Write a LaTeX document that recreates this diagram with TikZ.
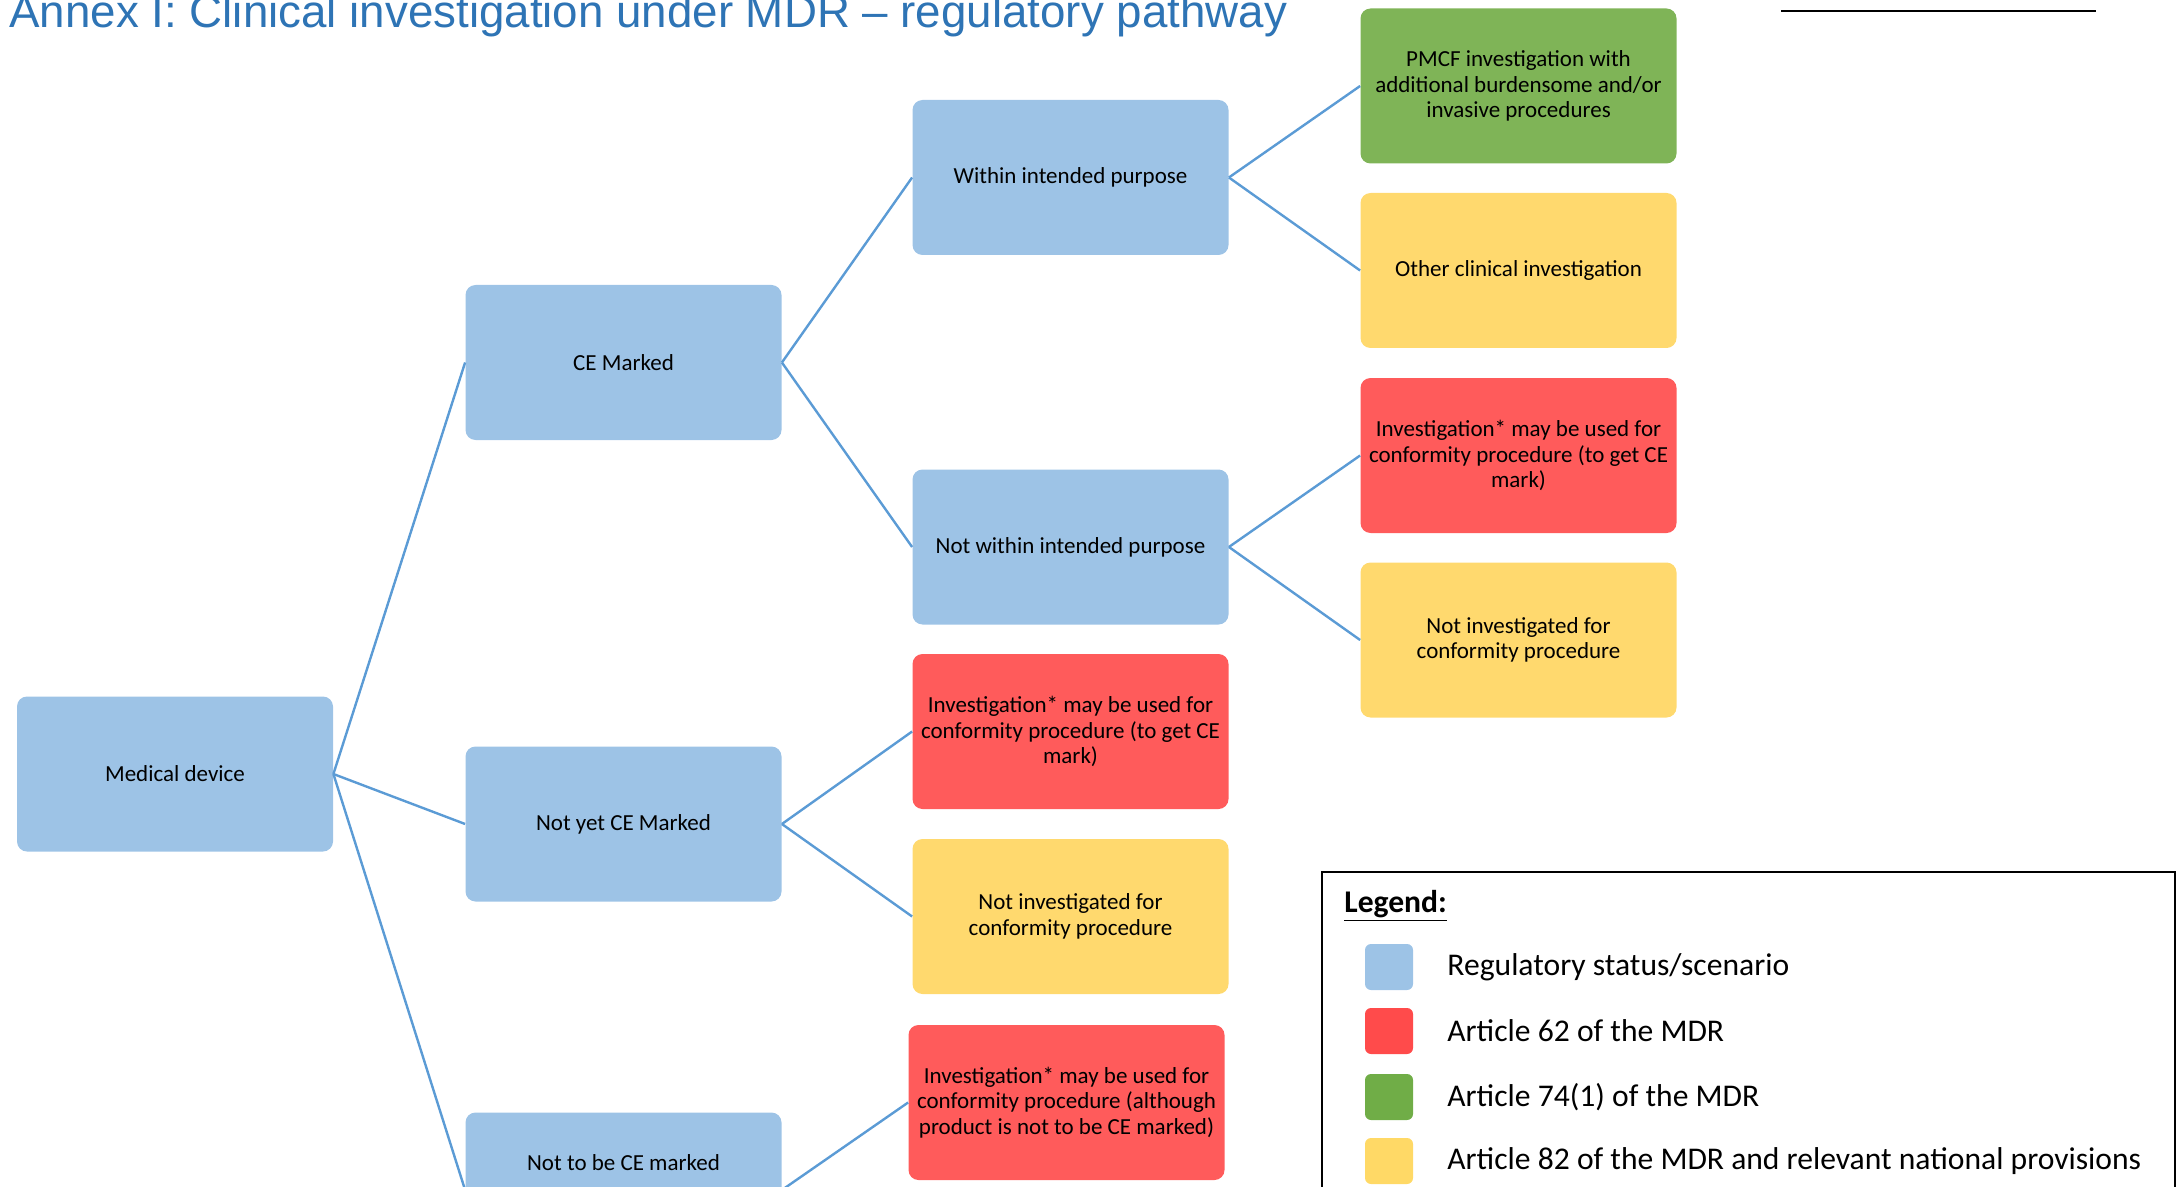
\documentclass[tikz,border=0pt]{standalone}
\usepackage{fontspec}
\setmainfont{Carlito}
\newfontfamily\titlefont{Liberation Sans}
\definecolor{nblue}{RGB}{157,195,230}
\definecolor{nred}{RGB}{255,91,91}
\definecolor{ngreen}{RGB}{127,180,87}
\definecolor{nyellow}{RGB}{255,217,110}
\definecolor{lgred}{RGB}{255,75,75}
\definecolor{lggreen}{RGB}{112,173,71}
\definecolor{lgyellow}{RGB}{255,217,102}
\definecolor{lblue}{RGB}{91,155,213}
\definecolor{tblue}{RGB}{46,116,181}
\begin{document}
\begin{tikzpicture}[x=0.5pt,y=-0.5pt,
  box/.style={rounded corners=5pt, minimum width=158pt, minimum height=77.5pt,
    align=center, inner sep=0pt, font=\fontsize{11.5}{12.8}\selectfont},
  bluebox/.style={box, fill=nblue},
  redbox/.style={box, fill=nred},
  greenbox/.style={box, fill=ngreen},
  yellowbox/.style={box, fill=nyellow},
  conn/.style={draw=lblue, line width=1.2pt},
  swatch/.style={rounded corners=3pt, minimum width=24pt, minimum height=23pt, inner sep=0pt},
  legtext/.style={anchor=west, inner sep=0pt, font=\fontsize{15.8}{18}\selectfont}]
\useasboundingbox (0,0) rectangle (2177,1187);
\clip (0,0) rectangle (2177,1187);

% title
\node[anchor=base west, inner sep=0pt, text=tblue, font=\titlefont\fontsize{22.85}{26}\selectfont] (title) at (9,28)
  {Annex I: Clinical investigation under MDR – regulatory pathway};
\draw[line width=1.3pt] (1781,11) -- (2096,11);

% nodes
\node[bluebox] (md) at (175,774) {Medical device};
\node[bluebox] (ce) at (623.5,362.5) {CE Marked};
\node[bluebox] (notyet) at (623.5,824) {Not yet CE Marked};
\node[bluebox] (nottobe) at (623.5,1190) {\raisebox{10pt}[0pt][0pt]{Not to be CE marked}};
\node[bluebox] (within) at (1070.5,177.5) {Within intended purpose};
\node[bluebox] (notwithin) at (1070.5,547) {Not within intended purpose};
\node[redbox] (r1) at (1070.5,731.5) {Investigation* may be used for\\conformity procedure (to get CE\\mark)};
\node[yellowbox] (y1) at (1070.5,916.5) {Not investigated for\\conformity procedure};
\node[redbox] (r2) at (1066.5,1102.5) {Investigation* may be used for\\conformity procedure (although\\product is not to be CE marked)};
\node[greenbox] (pmcf) at (1518.5,86) {PMCF investigation with\\additional burdensome and/or\\invasive procedures};
\node[yellowbox] (other) at (1518.5,270.5) {Other clinical investigation};
\node[redbox] (r3) at (1518.5,455.5) {Investigation* may be used for\\conformity procedure (to get CE\\mark)};
\node[yellowbox] (y3) at (1518.5,640) {Not investigated for\\conformity procedure};

% connectors
\draw[conn] (md.east) -- (ce.west);
\draw[conn] (md.east) -- (notyet.west);
\draw[conn] (md.east) -- (nottobe.west);
\draw[conn] (ce.east) -- (within.west);
\draw[conn] (ce.east) -- (notwithin.west);
\draw[conn] (within.east) -- (pmcf.west);
\draw[conn] (within.east) -- (other.west);
\draw[conn] (notwithin.east) -- (r3.west);
\draw[conn] (notwithin.east) -- (y3.west);
\draw[conn] (notyet.east) -- (r1.west);
\draw[conn] (notyet.east) -- (y1.west);
\draw[conn] (nottobe.east) -- (r2.west);

% legend
\draw[line width=1pt] (1322,872) rectangle (2175,1220);
\node[anchor=west, inner sep=0pt, font=\bfseries\fontsize{15.8}{18}\selectfont] (legtitle) at (1344,906) {\underline{Legend:}};
\node[swatch, fill=nblue] (s1) at (1389,967) {};
\node[swatch, fill=lgred] (s2) at (1389,1031) {};
\node[swatch, fill=lggreen] (s3) at (1389,1097) {};
\node[swatch, fill=lgyellow] (s4) at (1389,1161) {};
\node[legtext] (t1) at (1447,967) {Regulatory status/scenario};
\node[legtext] (t2) at (1447,1031) {Article 62 of the MDR};
\node[legtext] (t3) at (1447,1097) {Article 74(1) of the MDR};
\node[legtext] (t4) at (1447,1161) {Article 82 of the MDR and relevant national provisions};
\end{tikzpicture}
\end{document}
